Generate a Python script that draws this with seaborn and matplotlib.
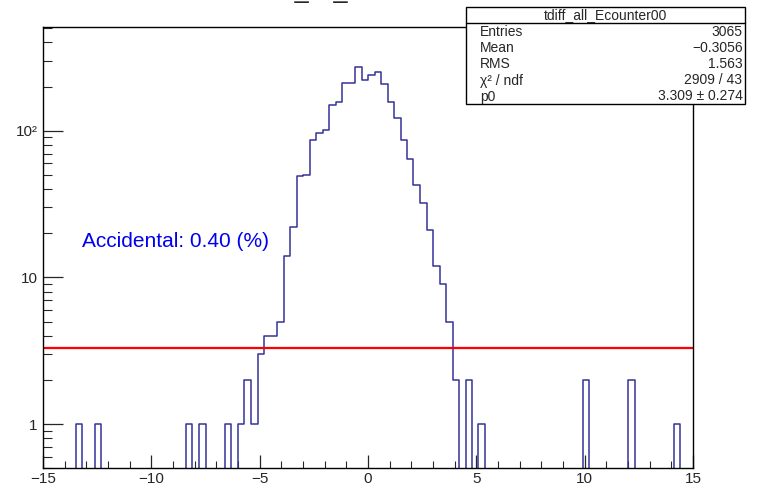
import numpy as np
import pandas as pd
import matplotlib
matplotlib.use("Agg")
import matplotlib.pyplot as plt
import seaborn as sns
from matplotlib.ticker import MultipleLocator, LogLocator, FuncFormatter, NullFormatter
from matplotlib.patches import Rectangle
from matplotlib.lines import Line2D

# histogram tdiff_all_Ecounter00: 100 bins of 0.3 on [-15, 15]
# low edge of each non-empty bin and its content
bin_low = [-13.5, -12.6, -8.4, -7.8, -6.6, -6.0, -5.7, -5.4,
           -5.1, -4.8, -4.5, -4.2, -3.9, -3.6, -3.3, -3.0,
           -2.7, -2.4, -2.1, -1.8, -1.5, -1.2, -0.9, -0.6,
           -0.3, 0.0, 0.3, 0.6, 0.9, 1.2, 1.5, 1.8,
           2.1, 2.4, 2.7, 3.0, 3.3, 3.6, 3.9, 4.5,
           5.1, 9.9, 12.0, 14.1]
counts = [1, 1, 1, 1, 1, 1, 2, 1,
          3, 4, 4, 5, 14, 22, 49, 50,
          86, 96, 102, 149, 158, 213, 213, 274,
          222, 240, 253, 209, 158, 122, 87, 64,
          43, 32, 21, 12, 9, 5, 2, 2,
          1, 2, 2, 1]
bin_width = 0.3
x_range = (-15, 15)
n_bins = 100

# flat fit (accidentals)
fit_p0 = 3.309

hist_title = "tdiff_all_Ecounter00"
stat_names = ["Entries", "Mean", "RMS", "\u03c7\u00b2 / ndf", "p0"]
stat_values = ["3065", "\u22120.3056", "1.563", "2909 / 43", "3.309 \u00b1 0.274"]
note_text = "Accidental: 0.40 (%)"

df = pd.DataFrame({"tdiff": np.array(bin_low) + bin_width / 2, "n": counts})

sns.set_style("ticks")
plt.rcParams["font.family"] = ["Liberation Sans", "DejaVu Sans"]
plt.rcParams["axes.linewidth"] = 1.0

fig = plt.figure(figsize=(7.59, 4.91), dpi=100)
ax = fig.add_axes([43 / 759, 1 - 468.3 / 491, 650 / 759, 441.3 / 491])

sns.histplot(data=df, x="tdiff", weights="n", bins=n_bins, binrange=x_range,
             element="step", fill=False, color="#333399", linewidth=1.1, ax=ax)
ax.axhline(fit_p0, color="#ff0000", linewidth=1.6)

ax.set_yscale("log")
ax.set_xlim(*x_range)
ax.set_ylim(0.5, 510)
ax.set_xlabel("")
ax.set_ylabel("")

# ROOT-like ticks: inside, only bottom/left
ax.xaxis.set_major_locator(MultipleLocator(5))
ax.xaxis.set_minor_locator(MultipleLocator(1))
ax.xaxis.set_major_formatter(FuncFormatter(lambda v, p: f"{v:.0f}".replace("-", "\u2212")))
ax.yaxis.set_major_locator(LogLocator(base=10, numticks=10))
ax.yaxis.set_minor_locator(LogLocator(base=10, subs=np.arange(2, 10), numticks=10))
ax.yaxis.set_minor_formatter(NullFormatter())
ax.yaxis.set_major_formatter(FuncFormatter(
    lambda v, p: {1: "1", 10: "10", 100: "10\u00b2"}.get(int(round(v)), "")))
ax.tick_params(axis="x", which="major", direction="in", length=9.5, width=0.9,
               labelsize=11, pad=3, top=False)
ax.tick_params(axis="x", which="minor", direction="in", length=4.8, width=0.8, top=False)
ax.tick_params(axis="y", which="major", direction="in", length=14.5, width=0.9,
               labelsize=11, pad=4, right=False)
ax.tick_params(axis="y", which="minor", direction="in", length=6.5, width=0.8, right=False)
for s in ax.spines.values():
    s.set_visible(True)
    s.set_color("black")

ax.text(-13.18, 17.7, note_text, color="#0000ee", fontsize=15, va="center", ha="left")

# title, mostly above the canvas in the original
fig.text(366 / 759, 1 + 2 / 491, hist_title, fontsize=18, ha="center", va="baseline")

# stats box
bx0, bx1 = 466 / 759, 745 / 759
by_top, by_bot = 1 - 7.3 / 491, 1 - 104 / 491
fig.patches.append(Rectangle((bx0, by_bot), bx1 - bx0, by_top - by_bot,
                             transform=fig.transFigure, facecolor="white",
                             edgecolor="black", linewidth=1.0, zorder=5))
fig.lines.append(Line2D([bx0, bx1], [1 - 23.3 / 491] * 2, transform=fig.transFigure,
                        color="black", linewidth=1.0, zorder=6))
fig.text((bx0 + bx1) / 2, 1 - 15 / 491, hist_title, fontsize=10, ha="center",
         va="center", zorder=7)
for i, (name, val) in enumerate(zip(stat_names, stat_values)):
    yy = 1 - (32.5 + 16 * i) / 491
    fig.text(480 / 759, yy, name, fontsize=10, ha="left", va="center", zorder=7)
    fig.text(742.5 / 759, yy, val, fontsize=10, ha="right", va="center", zorder=7)

fig.savefig("out.png", dpi=100)
